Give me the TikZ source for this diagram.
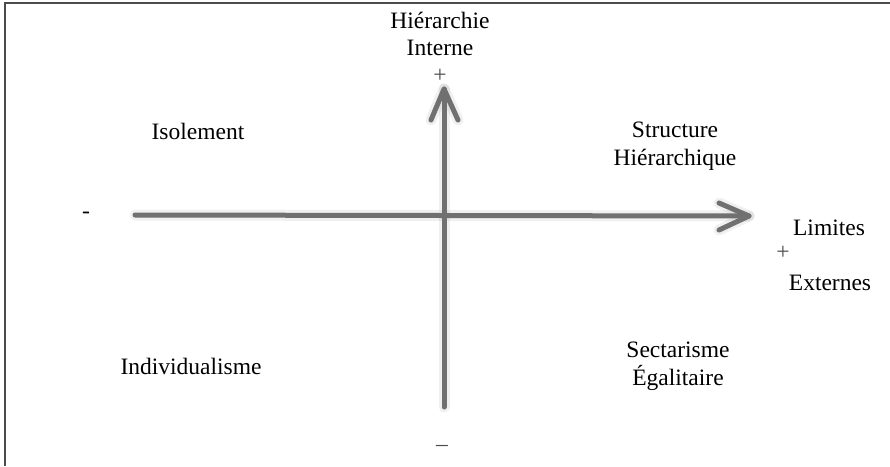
\documentclass[tikz,border=0pt]{standalone}
\usepackage{fontspec}
\setmainfont{Liberation Serif}
\begin{document}
\begin{tikzpicture}[x=1pt,y=-1pt,
  lbl/.style={font=\fontsize{23.5}{27.5}\selectfont, align=center, inner sep=0pt, text=black},
  sgn/.style={font=\fontsize{23.5}{27}\selectfont, inner sep=0pt, text=black!70},
  axis/.style={line width=5pt, draw=black!56, line cap=round, line join=round},
  shad/.style={line width=11pt, draw=black, draw opacity=0.06, line cap=round, line join=round},
  frame/.style={line width=2pt, draw=black!70}]
\useasboundingbox (0,0) rectangle (890,466);
\fill[white] (0,0) rectangle (890,466);
% frame
\coordinate (f0) at (5,466);
\coordinate (f1) at (5,3);
\coordinate (f2) at (890,3);
\draw[frame] (f0) -- (f1) -- (f2);
% axes
\coordinate (hs) at (135,215);
\coordinate (ht) at (749,216);
\coordinate (ha1) at (719,203);
\coordinate (ha2) at (719,230);
\coordinate (vs) at (444,407);
\coordinate (vt) at (444,89);
\coordinate (va1) at (431,120);
\coordinate (va2) at (458,120);
\begin{scope}[shift={(2,5)}]
\draw[shad] (hs) -- (ht);
\draw[shad] (ha1) -- (ht) -- (ha2);
\draw[shad] (vs) -- (vt);
\draw[shad] (va1) -- (vt) -- (va2);
\end{scope}
\draw[axis] (hs) -- (ht);
\draw[axis] (ha1) -- (ht) -- (ha2);
\draw[axis] (vs) -- (vt);
\draw[axis] (va1) -- (vt) -- (va2);
% labels
\node[lbl] (hi) at (440,34) {Hiérarchie\\Interne};
\node[sgn] (hp) at (440,76) {+};
\node[lbl] (iso) at (198,131) {Isolement};
\node[lbl] (sh) at (675,146) {Structure\\Hiérarchique};
\node[font=\fontsize{23.5}{27}\selectfont, inner sep=0pt] (mn) at (86,215) {-};
\node[lbl] (lim) at (829,228) {Limites};
\node[sgn] (lp) at (783,253) {+};
\node[lbl] (ext) at (830,283) {Externes};
\node[lbl] (ind) at (191,366) {Individualisme};
\node[lbl] (sec) at (678,366) {Sectarisme\\Égalitaire};
\node[sgn] (bm) at (442,448) {--};
\end{tikzpicture}
\end{document}
